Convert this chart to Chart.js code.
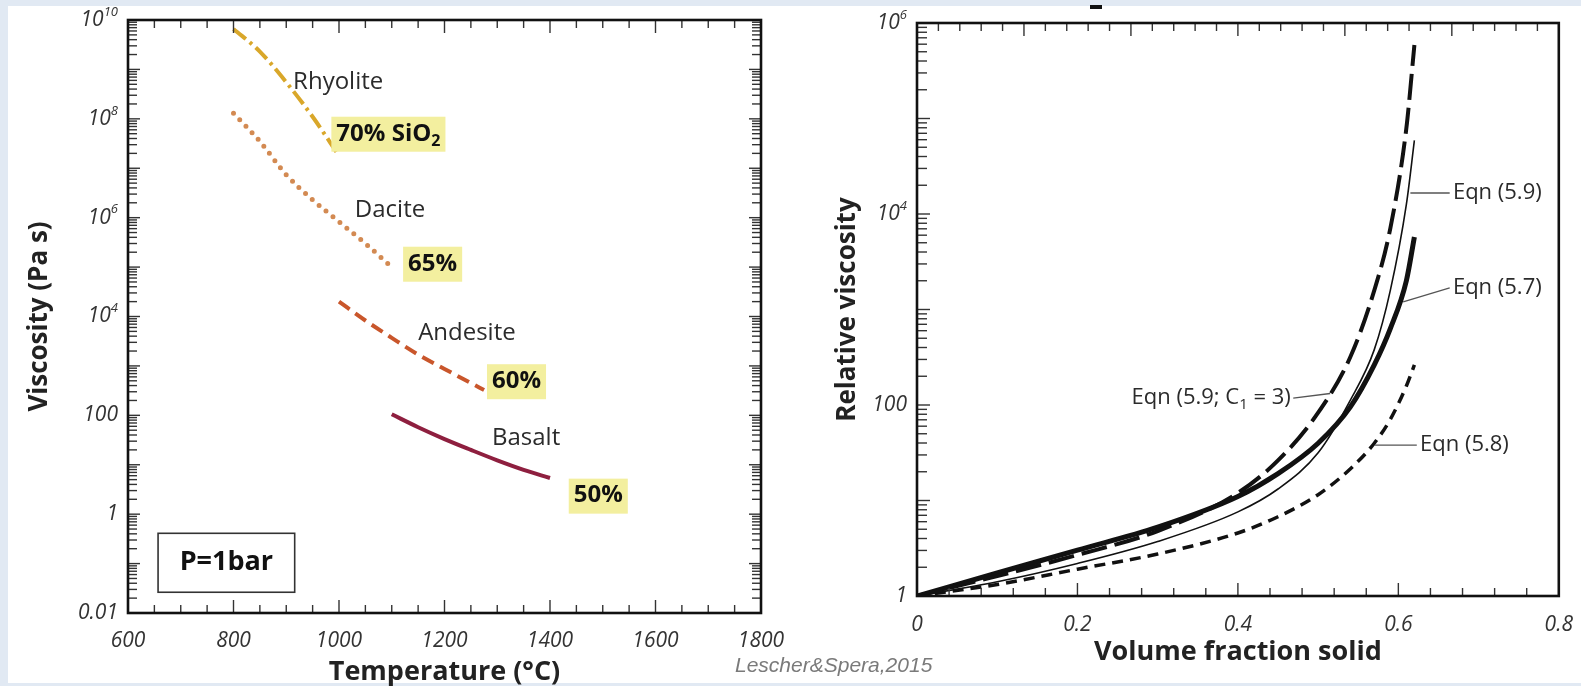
<!DOCTYPE html>
<html>
<head>
<meta charset="utf-8">
<script src="https://cdn.jsdelivr.net/npm/chart.js@4.4.0/dist/chart.umd.min.js"></script>
<style>
  html, body { margin: 0; padding: 0; }
  body { width: 1581px; height: 686px; background: #e1e9f3; position: relative; overflow: hidden; }
  #panel { position: absolute; left: 8px; top: 6px; width: 1573px; height: 677px; background: #fff; }
  #leftWrap { position: absolute; left: 0; top: 0; }
  #rightWrap { position: absolute; left: 780px; top: 0; }
  #source { position: absolute; left: 735px; top: 653px; line-height: 24px;
            font: italic 21px "Liberation Sans", Arial, sans-serif; color: #7a7a7a; }
  #dash { position: absolute; left: 1090px; top: 5px; width: 12px; height: 4px; background: #111; }
</style>
</head>
<body>
<div id="panel"></div>
<div id="dash"></div>
<div id="leftWrap"><canvas id="left" width="800" height="686"></canvas></div>
<div id="rightWrap"><canvas id="right" width="801" height="686"></canvas></div>
<div id="source">Lescher&amp;Spera,2015</div>
<script>
// left panel: melt viscosity vs temperature at 1 bar
const rhyoliteT = [800, 850, 900, 950, 1000];
const rhyoliteVisc = [6.6e9, 2.3e9, 5.5e8, 1.1e8, 1.8e7];
const daciteT = [800, 850, 900, 950, 1000, 1050, 1100];
const daciteVisc = [1.3e8, 3.5e7, 7.4e6, 2.3e6, 8.3e5, 3.0e5, 1.0e5];
const andesiteT = [1000, 1050, 1100, 1150, 1200, 1250, 1275];
const andesiteVisc = [2.0e4, 8.3e3, 3.7e3, 1.7e3, 870, 450, 325];
const basaltT = [1100, 1150, 1200, 1250, 1300, 1350, 1400];
const basaltVisc = [105, 57.5, 33.1, 20.0, 12.3, 7.9, 5.4];
const viscTicks = [0.01, 1, 100, 1e4, 1e6, 1e8, 1e10];

// right panel: relative viscosity vs volume fraction solid
const phi = [0, 0.1, 0.2, 0.3, 0.4, 0.45, 0.5, 0.54, 0.57, 0.59, 0.61, 0.62];
const eqn59c3 = [1, 1.62, 2.69, 4.79, 12.0, 26.3, 83, 316, 1585, 7080, 79400, 589000];
const eqn59 = [1, 1.41, 2.19, 3.72, 7.6, 13.2, 31.6, 112, 380, 1585, 12600, 58900];
const eqn57 = [1, 1.74, 3.02, 5.25, 11.0, 19.1, 39.8, 95, 263, 630, 2000, 5750];
const eqn58 = [1, 1.32, 1.91, 2.75, 4.57, 6.76, 11.5, 21.4, 39.8, 70.8, 158, 263];
const relTicks = [1, 100, 1e4, 1e6];

const FONT = '"Open Sans", "Noto Sans", sans-serif';

function pts(xs, ys) {
  return xs.map((x, i) => ({ x: x, y: ys[i] }));
}

function line(label, xs, ys, color, width, dash, cap) {
  return {
    label: label, data: pts(xs, ys), showLine: true, pointRadius: 0,
    borderColor: color, borderWidth: width, borderDash: dash || [],
    borderCapStyle: cap || 'butt', cubicInterpolationMode: 'monotone', fill: false
  };
}

// inward tick marks for log axes: [value, length]
function logTicks(e0, e1, major, minor) {
  const out = [];
  for (let e = e0; e < e1; e++) {
    for (let k = 1; k <= 9; k++) out.push([k * Math.pow(10, e), k === 1 ? major : minor]);
  }
  out.push([Math.pow(10, e1), major]);
  return out;
}
function linTicks(min, max, n, every, major, minor) {
  const out = [];
  for (let i = 0; i <= n; i++) out.push([min + (max - min) * i / n, i % every === 0 ? major : minor]);
  return out;
}

function drawRich(ctx, parts, x, y, size, weight, color, align) {
  let w = 0;
  parts.forEach(([t, sub]) => {
    ctx.font = weight + ' ' + (sub ? Math.round(size * 0.68) : size) + 'px ' + FONT;
    w += ctx.measureText(t).width;
  });
  let cx = align === 'right' ? x - w : align === 'center' ? x - w / 2 : x;
  const start = cx;
  ctx.fillStyle = color;
  ctx.textBaseline = 'middle';
  ctx.textAlign = 'left';
  parts.forEach(([t, sub]) => {
    ctx.font = weight + ' ' + (sub ? Math.round(size * 0.68) : size) + 'px ' + FONT;
    ctx.fillText(t, cx, y + (sub ? size * 0.32 : 0));
    cx += ctx.measureText(t).width;
  });
  return { left: start, width: w };
}

function drawYLabel(ctx, v, xr, y) {
  const e = Math.round(Math.log10(v));
  ctx.fillStyle = '#333';
  ctx.textBaseline = 'middle';
  ctx.textAlign = 'right';
  if (e >= 4) {
    ctx.font = 'italic 13px ' + FONT;
    const ew = ctx.measureText(String(e)).width;
    ctx.fillText(String(e), xr, y - 8);
    ctx.font = 'italic 21px ' + FONT;
    ctx.fillText('10', xr - ew, y);
  } else {
    ctx.font = 'italic 21px ' + FONT;
    ctx.fillText(String(v), xr, y);
  }
}

function framePlugin(o) {
  return {
    id: 'frame',
    afterDatasetsDraw(chart) {
      const { ctx, chartArea: a, scales } = chart;
      const sx = scales.x, sy = scales.y;
      const tick = (x1, y1, x2, y2) => { ctx.beginPath(); ctx.moveTo(x1, y1); ctx.lineTo(x2, y2); ctx.stroke(); };
      ctx.save();
      ctx.strokeStyle = '#333';
      ctx.lineWidth = 1.4;
      o.bottomTicks.forEach(([v, len]) => { const p = sx.getPixelForValue(v); tick(p, a.bottom, p, a.bottom - len); });
      o.topTicks.forEach(([v, len]) => { const p = sx.getPixelForValue(v); tick(p, a.top, p, a.top + len); });
      o.yTicks.forEach(([v, len]) => {
        const p = sy.getPixelForValue(v);
        tick(a.left, p, a.left + len, p);
        if (o.rightTicks) tick(a.right, p, a.right - len, p);
      });
      ctx.lineWidth = 2.6;
      ctx.strokeStyle = '#111';
      ctx.strokeRect(a.left, a.top, a.right - a.left, a.bottom - a.top);

      o.yLabels.forEach(v => drawYLabel(ctx, v, a.left - 10, sy.getPixelForValue(v)));

      o.notes.forEach(n => {
        if (n.rect) {
          const x1 = sx.getPixelForValue(n.rect[0]), y1 = sy.getPixelForValue(n.rect[1]);
          const x2 = sx.getPixelForValue(n.rect[2]), y2 = sy.getPixelForValue(n.rect[3]);
          ctx.lineWidth = 1.6;
          ctx.strokeStyle = '#333';
          ctx.strokeRect(x1, y1, x2 - x1, y2 - y1);
          drawRich(ctx, n.parts, (x1 + x2) / 2, (y1 + y2) / 2, n.size, 'bold', '#111', 'center');
          return;
        }
        if (n.line) {
          ctx.lineWidth = 1.3;
          ctx.strokeStyle = '#555';
          tick(sx.getPixelForValue(n.line[0]), sy.getPixelForValue(n.line[1]),
               sx.getPixelForValue(n.line[2]), sy.getPixelForValue(n.line[3]));
        }
        const px = sx.getPixelForValue(n.x), py = sy.getPixelForValue(n.y);
        const weight = n.bold ? 'bold' : 'normal';
        if (n.box) {
          let w = 0;
          n.parts.forEach(([t, sub]) => {
            ctx.font = weight + ' ' + (sub ? Math.round(n.size * 0.68) : n.size) + 'px ' + FONT;
            w += ctx.measureText(t).width;
          });
          ctx.fillStyle = '#f3ef9f';
          ctx.fillRect(px - 5, py - 17, w + 10, 35);
        }
        drawRich(ctx, n.parts, px, py, n.size, weight, n.bold ? '#111' : '#2b2b2b', n.align || 'left');
      });
      ctx.restore();
    }
  };
}

const leftNotes = [
  { x: 913, y: 5.6e8, parts: [['Rhyolite']], size: 24 },
  { x: 995, y: 5.0e7, parts: [['70% SiO'], ['2', true]], size: 24, bold: true, box: true },
  { x: 1030, y: 1.43e6, parts: [['Dacite']], size: 24 },
  { x: 1131, y: 1.17e5, parts: [['65%']], size: 24, bold: true, box: true },
  { x: 1150, y: 4.6e3, parts: [['Andesite']], size: 24 },
  { x: 1290, y: 490, parts: [['60%']], size: 24, bold: true, box: true },
  { x: 1290, y: 34.5, parts: [['Basalt']], size: 24 },
  { x: 1445, y: 2.37, parts: [['50%']], size: 24, bold: true, box: true },
  { rect: [657, 0.41, 916, 0.0263], parts: [['P=1bar']], size: 27 }
];

const rightNotes = [
  { x: 0.668, y: 16600, parts: [['Eqn (5.9)']], size: 22, line: [0.615, 16600, 0.664, 16600] },
  { x: 0.668, y: 1680, parts: [['Eqn (5.7)']], size: 22, line: [0.606, 1200, 0.664, 1680] },
  { x: 0.466, y: 120, parts: [['Eqn (5.9; C'], ['1', true], [' = 3)']], size: 22, align: 'right',
    line: [0.469, 118, 0.515, 132] },
  { x: 0.627, y: 38, parts: [['Eqn (5.8)']], size: 22, line: [0.571, 38, 0.623, 38] }
];

const tickFont = { family: FONT, size: 21, style: 'italic' };
const titleFont = { family: FONT, size: 27, weight: 'bold', lineHeight: 1 };

new Chart(document.getElementById('left'), {
  type: 'scatter',
  data: {
    datasets: [
      line('Rhyolite', rhyoliteT, rhyoliteVisc, '#d9a72a', 4, [16, 5, 3, 5]),
      line('Dacite', daciteT, daciteVisc, '#d38a52', 5, [0, 9], 'round'),
      line('Andesite', andesiteT, andesiteVisc, '#c9562b', 4, [13, 7]),
      line('Basalt', basaltT, basaltVisc, '#8e1f3f', 4)
    ]
  },
  options: {
    responsive: false,
    animation: false,
    layout: { padding: { top: 20, right: 39, left: 0, bottom: 0 } },
    plugins: { legend: { display: false }, tooltip: { enabled: false } },
    scales: {
      x: {
        type: 'linear', min: 600, max: 1800,
        grid: { display: false }, border: { display: false },
        ticks: { stepSize: 200, padding: 7, autoSkip: false, maxRotation: 0, color: '#333', font: tickFont,
                 callback: v => String(v) },
        title: { display: true, text: 'Temperature (°C)', color: '#222', font: titleFont, padding: { top: 0, bottom: 0 } },
        afterFit: s => { s.height = 73; }
      },
      y: {
        type: 'logarithmic', min: 0.01, max: 1e10,
        grid: { display: false }, border: { display: false },
        ticks: { display: false },
        title: { display: true, text: 'Viscosity (Pa s)', color: '#222',
                 font: { family: FONT, size: 26, weight: 'bold', lineHeight: 1 }, padding: { top: 27, bottom: 0 } },
        afterFit: s => { s.width = 128; }
      }
    }
  },
  plugins: [framePlugin({
    bottomTicks: linTicks(600, 1800, 24, 4, 13, 8),
    topTicks: linTicks(600, 1800, 24, 4, 13, 8),
    yTicks: logTicks(-2, 10, 12, 9),
    rightTicks: true,
    yLabels: viscTicks,
    notes: leftNotes
  })]
});

new Chart(document.getElementById('right'), {
  type: 'scatter',
  data: {
    datasets: [
      line('Eqn (5.9; C1 = 3)', phi, eqn59c3, '#111', 4, [26, 8]),
      line('Eqn (5.9)', phi, eqn59, '#111', 1.6),
      line('Eqn (5.7)', phi, eqn57, '#111', 5),
      line('Eqn (5.8)', phi, eqn58, '#111', 3.5, [11, 7])
    ]
  },
  options: {
    responsive: false,
    animation: false,
    layout: { padding: { top: 23, right: 20, left: 0, bottom: 0 } },
    plugins: { legend: { display: false }, tooltip: { enabled: false } },
    scales: {
      x: {
        type: 'linear', min: 0, max: 0.8,
        grid: { display: false }, border: { display: false },
        ticks: { stepSize: 0.2, padding: 8, autoSkip: false, maxRotation: 0, color: '#333', font: tickFont,
                 callback: v => String(Math.round(v * 10) / 10) },
        title: { display: true, text: 'Volume fraction solid', color: '#222', font: titleFont, padding: { top: 0, bottom: 20 } },
        afterFit: s => { s.height = 90; }
      },
      y: {
        type: 'logarithmic', min: 1, max: 1e6,
        grid: { display: false }, border: { display: false },
        ticks: { display: false },
        title: { display: true, text: 'Relative viscosity', color: '#222',
                 font: { family: FONT, size: 26, weight: 'bold', lineHeight: 1 }, padding: { top: 55, bottom: 0 } },
        afterFit: s => { s.width = 137; }
      }
    }
  },
  plugins: [framePlugin({
    bottomTicks: linTicks(0, 0.8, 20, 5, 13, 8),
    topTicks: linTicks(0, 0.8, 30, 5, 13, 8),
    yTicks: logTicks(0, 6, 13, 10),
    rightTicks: false,
    yLabels: relTicks,
    notes: rightNotes
  })]
});
</script>
</body>
</html>
